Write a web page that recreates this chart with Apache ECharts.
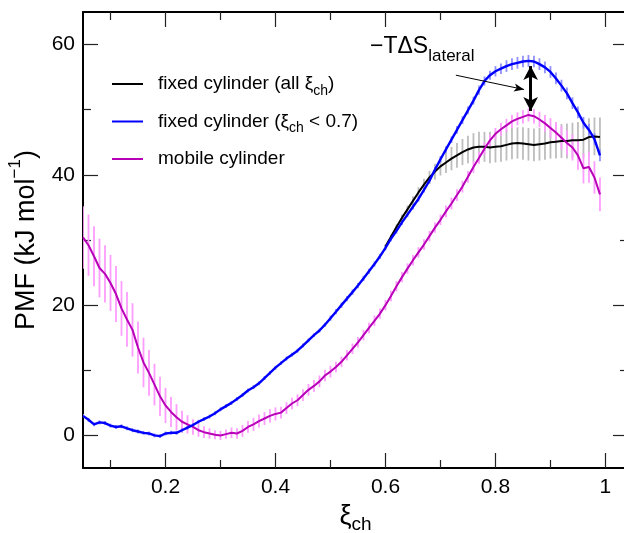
<!DOCTYPE html>
<html lang="en">
<head>
<meta charset="UTF-8">
<title>PMF</title>
<style>
  html, body { margin: 0; padding: 0; background: #fff; }
  #chart { width: 624px; height: 533px; }
</style>
</head>
<body>
<div id="chart"></div>
<script src="https://cdn.jsdelivr.net/npm/echarts@6/dist/echarts.min.js"></script>
<script>
// reaction coordinate samples
var xi = [0.05,0.06,0.07,0.08,0.09,0.10,0.11,0.12,0.13,0.14,0.15,0.16,0.17,0.18,0.19,
          0.20,0.21,0.22,0.23,0.24,0.25,0.26,0.27,0.28,0.29,0.30,0.31,0.32,0.33,0.34,
          0.35,0.36,0.37,0.38,0.39,0.40,0.41,0.42,0.43,0.44,0.45,0.46,0.47,0.48,0.49,
          0.50,0.51,0.52,0.53,0.54,0.55,0.56,0.57,0.58,0.59,0.60,0.61,0.62,0.63,0.64,
          0.65,0.66,0.67,0.68,0.69,0.70,0.71,0.72,0.73,0.74,0.75,0.76,0.77,0.78,0.79,
          0.80,0.81,0.82,0.83,0.84,0.85,0.86,0.87,0.88,0.89,0.90,0.91,0.92,0.93,0.94,
          0.95,0.96,0.97,0.98,0.99];

// fixed cylinder (xi_ch < 0.7)
var fixedLow = [3.0,2.4,1.7,2.0,1.9,1.5,1.3,1.4,1.1,0.8,0.6,0.4,0.3,0.0,-0.1,
                0.3,0.4,0.4,0.8,1.2,1.6,2.1,2.5,2.9,3.4,4.0,4.5,5.0,5.6,6.2,
                6.9,7.4,8.0,8.8,9.6,10.4,11.1,11.8,12.4,13.0,13.8,14.6,15.4,16.1,17.0,
                18.0,19.0,20.0,21.0,22.0,23.0,24.1,25.2,26.3,27.5,28.8,30.2,31.4,32.7,33.9,
                35.1,36.3,37.7,39.1,40.8,42.4,43.9,45.4,46.9,48.4,49.9,51.4,53.0,54.4,55.3,
                55.9,56.3,56.7,57.0,57.2,57.4,57.5,57.4,57.0,56.5,55.8,54.8,53.7,52.5,51.0,
                49.6,48.0,46.9,45.5,43.0];
var fixedLowErr = [0.3,0.3,0.3,0.3,0.3,0.3,0.3,0.3,0.3,0.3,0.3,0.3,0.3,0.3,0.3,
                   0.3,0.3,0.3,0.3,0.3,0.3,0.3,0.3,0.3,0.3,0.3,0.3,0.3,0.3,0.3,
                   0.3,0.3,0.3,0.3,0.3,0.3,0.3,0.3,0.3,0.3,0.3,0.3,0.3,0.3,0.3,
                   0.4,0.4,0.4,0.4,0.4,0.4,0.4,0.4,0.4,0.4,0.4,0.4,0.4,0.4,0.4,
                   0.4,0.4,0.4,0.4,0.4,0.5,0.5,0.5,0.6,0.6,0.6,0.6,0.7,0.7,0.7,
                   0.8,0.8,0.9,0.9,0.9,0.9,0.9,0.9,0.9,0.9,0.9,0.9,0.9,0.9,0.9,
                   0.9,0.9,0.9,0.9,0.9];

// fixed cylinder (all xi_ch), visible from 0.60 on
var xiAll = [0.60,0.61,0.62,0.63,0.64,0.65,0.66,0.67,0.68,0.69,0.70,0.71,0.72,0.73,0.74,
             0.75,0.76,0.77,0.78,0.79,0.80,0.81,0.82,0.83,0.84,0.85,0.86,0.87,0.88,0.89,
             0.90,0.91,0.92,0.93,0.94,0.95,0.96,0.97,0.98,0.99];
var fixedAll = [29.0,30.5,32.0,33.4,34.7,36.0,37.3,38.5,39.6,40.5,41.3,41.9,42.5,43.0,43.5,
                43.9,44.2,44.3,44.3,44.2,44.3,44.4,44.6,44.8,44.9,44.8,44.7,44.6,44.7,44.8,
                45.0,45.1,45.2,45.2,45.3,45.3,45.4,45.8,45.9,45.8];
var fixedAllErr = [0.3,0.3,0.4,0.5,0.6,0.7,0.8,0.9,1.0,1.2,1.4,1.6,1.8,1.9,2.0,
                   2.1,2.2,2.3,2.3,2.4,2.4,2.4,2.4,2.4,2.4,2.5,2.5,2.5,2.5,2.5,
                   2.5,2.6,2.6,2.7,2.7,2.8,2.8,2.9,2.9,3.0];

// mobile cylinder
var mobile = [30.4,29.2,27.5,25.7,24.8,23.4,21.7,19.5,17.8,16.2,13.5,11.2,9.6,7.8,6.0,
              4.6,3.6,2.8,2.1,1.7,1.3,0.8,0.5,0.3,0.1,0.0,0.2,0.4,0.3,0.7,
              1.3,1.7,2.2,2.6,3.0,3.3,3.5,4.2,4.9,5.4,6.2,7.0,7.6,8.3,9.2,
              9.8,10.5,11.3,12.3,13.3,14.3,15.4,16.5,17.6,18.7,20.0,21.4,22.9,24.3,25.6,
              26.9,28.1,29.3,30.6,31.9,33.1,34.4,35.6,36.9,38.2,39.7,41.2,42.6,44.0,45.3,
              46.3,47.0,47.6,48.2,48.6,48.9,49.2,49.0,48.5,47.9,47.2,46.5,45.7,44.9,44.2,
              43.0,41.0,41.2,39.6,37.0];
var mobileErr = [4.8,4.7,4.6,4.5,4.4,4.3,4.3,4.2,4.2,4.1,4.0,3.8,3.5,3.2,3.0,
                 2.7,2.3,2.0,1.7,1.4,1.2,1.0,0.9,0.8,0.7,0.7,0.7,0.8,0.8,0.9,
                 0.9,1.0,1.0,1.0,1.0,1.0,0.9,0.9,0.9,0.9,0.9,0.9,0.9,0.9,0.9,
                 0.9,0.8,0.8,0.8,0.8,0.8,0.8,0.8,0.8,0.8,0.8,0.8,0.8,0.8,0.8,
                 0.8,0.8,0.8,0.8,0.8,0.8,0.9,0.9,0.9,0.9,0.9,0.9,0.9,0.9,0.9,
                 0.9,1.0,1.0,1.0,1.0,1.0,1.0,1.1,1.2,1.3,1.5,1.6,1.8,1.9,2.0,
                 2.2,2.3,2.4,2.5,2.6];

// ticks
var xMajor = [0.2, 0.4, 0.6, 0.8, 1];
var xMinor = [0.1, 0.3, 0.5, 0.7, 0.9];
var yMajor = [0, 20, 40, 60];
var yMinor = [10, 30, 50];

// legend texts (rich)
var legendNames = ['all', 'low', 'mobile'];
var legendTexts = {
  all: '{p|}fixed cylinder (all ξ{s|ch})',
  low: '{p|}fixed cylinder (ξ{s|ch} < 0.7)',
  mobile: '{p|}mobile cylinder'
};

// annotation arrows [x1, y1, x2, y2] in data units
var entropyArrow = [0.864, 56.7, 0.864, 49.8];
var pointerArrow = [0.728, 55.3, 0.852, 53.1];

var FONT = 'Liberation Sans, Arial, sans-serif';

function zip(xs, ys) {
  return xs.map(function (x, i) { return [x, ys[i]]; });
}

function errBars(xs, ys, es, color, w) {
  return {
    type: 'custom',
    silent: true,
    clip: true,
    z: 1,
    encode: { x: 0, y: [1, 2] },
    data: xs.map(function (x, i) { return [x, ys[i] - es[i], ys[i] + es[i]]; }),
    renderItem: function (params, api) {
      var a = api.coord([api.value(0), api.value(1)]);
      var b = api.coord([api.value(0), api.value(2)]);
      return {
        type: 'line',
        shape: { x1: a[0], y1: a[1], x2: b[0], y2: b[1] },
        style: { stroke: color, lineWidth: w }
      };
    }
  };
}

function xAx(pos, ticks, len, showLine, labels) {
  return {
    type: 'value', position: pos, min: 0.05, max: 1.041,
    splitLine: { show: false },
    axisLine: { show: showLine, onZero: false, lineStyle: { color: '#000', width: 2 } },
    axisTick: { inside: true, length: len, customValues: ticks, lineStyle: { color: '#222', width: 1.2 } },
    axisLabel: labels ? {
      customValues: ticks, margin: 9, color: '#000', fontSize: 21, fontFamily: FONT
    } : { show: false }
  };
}

function yAx(pos, ticks, len, showLine, labels) {
  return {
    type: 'value', position: pos, min: -5, max: 65,
    splitLine: { show: false },
    axisLine: { show: showLine, onZero: false, lineStyle: { color: '#000', width: 2 } },
    axisTick: { inside: true, length: len, customValues: ticks, lineStyle: { color: '#222', width: 1.2 } },
    axisLabel: labels ? {
      customValues: ticks, margin: 8, color: '#000', fontSize: 21, fontFamily: FONT
    } : { show: false }
  };
}

var chart = echarts.init(document.getElementById('chart'));

var xAxes = [
  xAx('bottom', xMajor, 15, true, true),
  xAx('bottom', xMinor, 8, false, false),
  xAx('top', xMajor, 15, true, false),
  xAx('top', xMinor, 8, false, false)
];
xAxes[0].name = '{b|ξ}{s|ch}';
xAxes[0].nameLocation = 'middle';
xAxes[0].nameGap = 30;
xAxes[0].nameTextStyle = {
  color: '#000', fontFamily: FONT,
  rich: {
    b: { fontSize: 27, lineHeight: 36, fontFamily: FONT, color: '#000' },
    s: { fontSize: 19, lineHeight: 19, verticalAlign: 'bottom', fontFamily: FONT, color: '#000' }
  }
};

var yAxes = [
  yAx('left', yMajor, 15, true, true),
  yAx('left', yMinor, 8, false, false),
  yAx('right', yMajor, 15, true, false),
  yAx('right', yMinor, 8, false, false)
];
yAxes[0].name = '{n|PMF (kJ mol}{u|−1}{n|)}';
yAxes[0].nameLocation = 'middle';
yAxes[0].nameRotate = 90;
yAxes[0].nameGap = 36;
yAxes[0].nameTextStyle = {
  color: '#000', fontFamily: FONT,
  rich: {
    n: { fontSize: 27, lineHeight: 40, fontFamily: FONT, color: '#000' },
    u: { fontSize: 17, lineHeight: 20, verticalAlign: 'top', fontFamily: FONT, color: '#000' }
  }
};

var option = {
  animation: false,
  backgroundColor: '#fff',
  grid: { left: 83, right: -4, top: 12, bottom: 65, containLabel: false, outerBoundsMode: 'none' },
  xAxis: xAxes,
  yAxis: yAxes,
  legend: {
    data: legendNames,
    orient: 'vertical',
    left: 107,
    top: 65,
    itemWidth: 31,
    itemHeight: 2,
    itemGap: 9.5,
    icon: 'rect',
    selectedMode: false,
    formatter: function (name) { return legendTexts[name]; },
    textStyle: {
      color: '#000', fontSize: 19, fontFamily: FONT, lineHeight: 28,
      rich: {
        p: { width: 10 },
        s: { fontSize: 14, lineHeight: 14, verticalAlign: 'bottom', fontFamily: FONT, color: '#000' }
      }
    }
  },
  graphic: [{
    type: 'text',
    left: 370,
    top: 35,
    style: {
      text: '{m|−TΔS}{s|lateral}',
      rich: {
        m: { fontSize: 23, lineHeight: 37, fontFamily: FONT, fill: '#000' },
        s: { fontSize: 17, lineHeight: 17, verticalAlign: 'bottom', fontFamily: FONT, fill: '#000' }
      }
    }
  }],
  series: [
    errBars(xiAll, fixedAll, fixedAllErr, '#bdbdbd', 1.8),
    {
      name: 'all', type: 'line', showSymbol: false, symbol: 'none', z: 2,
      data: zip(xiAll, fixedAll),
      itemStyle: { color: '#000' },
      lineStyle: { color: '#000', width: 2 }
    },
    errBars(xi, mobile, mobileErr, '#ff9cff', 1.8),
    {
      name: 'mobile', type: 'line', showSymbol: false, symbol: 'none', z: 3,
      data: zip(xi, mobile),
      itemStyle: { color: '#b800b8' },
      lineStyle: { color: '#b800b8', width: 2 }
    },
    errBars(xi, fixedLow, fixedLowErr, '#9090ff', 1.8),
    {
      name: 'low', type: 'line', showSymbol: false, symbol: 'none', z: 4,
      data: zip(xi, fixedLow),
      itemStyle: { color: '#0000ff' },
      lineStyle: { color: '#0000ff', width: 2.4 },
      markLine: {
        silent: true,
        animation: false,
        label: { show: false },
        data: [
          [
            { coord: [entropyArrow[0], entropyArrow[1]], symbol: 'arrow', symbolSize: [11, 14],
              lineStyle: { color: '#000', width: 3, type: 'solid' } },
            { coord: [entropyArrow[2], entropyArrow[3]], symbol: 'arrow', symbolSize: [11, 14] }
          ],
          [
            { coord: [pointerArrow[0], pointerArrow[1]], symbol: 'none',
              lineStyle: { color: '#000', width: 1, type: 'solid' } },
            { coord: [pointerArrow[2], pointerArrow[3]], symbol: 'arrow', symbolSize: [6, 10] }
          ]
        ]
      }
    }
  ]
};

chart.setOption(option);
</script>
</body>
</html>
